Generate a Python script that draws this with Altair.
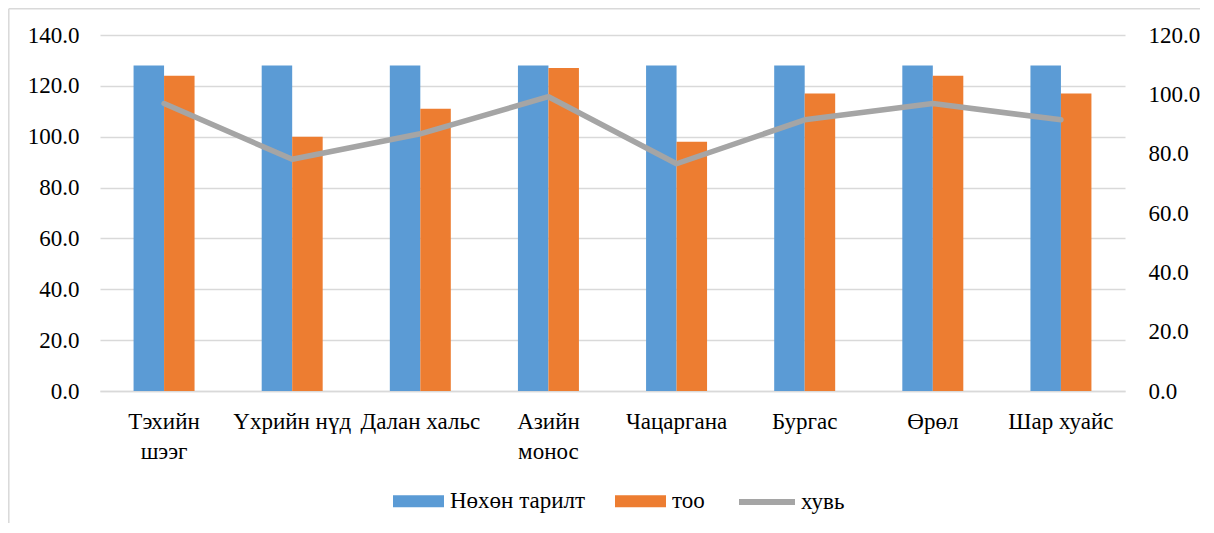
import altair as alt
import pandas as pd

categories = ["Тэхийн шээг", "Үхрийн нүд", "Далан хальс", "Азийн монос",
              "Чацаргана", "Бургас", "Өрөл", "Шар хуайс"]
nokhon = [128, 128, 128, 128, 128, 128, 128, 128]
too = [124, 100, 111, 127, 98, 117, 124, 117]
khuvi = [96.9, 78.1, 86.7, 99.2, 76.6, 91.4, 96.9, 91.4]
bar_series = ["Нөхөн тарилт", "тоо"]
line_series = "хувь"
left_ticks = [0, 20, 40, 60, 80, 100, 120, 140]
right_ticks = [0, 20, 40, 60, 80, 100, 120]

bars_df = pd.DataFrame(
    [{"cat": c, "series": bar_series[0], "value": v} for c, v in zip(categories, nokhon)]
    + [{"cat": c, "series": bar_series[1], "value": v} for c, v in zip(categories, too)]
)
line_df = pd.DataFrame({"cat": categories, "pct": khuvi, "series": [line_series] * len(categories)})

FONT = "Liberation Serif, Times New Roman, serif"
BLUE, ORANGE, GRAY = "#5b9bd5", "#ed7d31", "#a5a5a5"
GRID = "#d9d9d9"

xscale = alt.Scale(domain=categories, paddingInner=0.524, paddingOuter=0.262)
x_axis = alt.Axis(
    title=None, labelAngle=0, ticks=False, tickSize=0, domainColor=GRID, domainWidth=1.3,
    labelPadding=19, labelFontSize=23, labelFont=FONT, labelColor="#000", labelLineHeight=30,
    labelExpr="indexof(['Тэхийн шээг','Азийн монос'], datum.label) >= 0 ? split(datum.label, ' ') : datum.label",
)

bars = alt.Chart(bars_df).mark_bar().encode(
    x=alt.X("cat:N", scale=xscale, axis=x_axis, sort=categories),
    xOffset=alt.XOffset("series:N", sort=bar_series, scale=alt.Scale(paddingInner=0, paddingOuter=0)),
    y=alt.Y("value:Q", scale=alt.Scale(domain=[0, 140], nice=False),
            axis=alt.Axis(title=None, orient="left", values=left_ticks, format=".1f",
                          ticks=False, domain=False, grid=True, gridColor=GRID, gridWidth=1.3,
                          labelPadding=21, labelFontSize=23, labelFont=FONT, labelColor="#000")),
    color=alt.Color("series:N", sort=bar_series,
                    scale=alt.Scale(domain=bar_series, range=[BLUE, ORANGE]),
                    legend=alt.Legend(title=None, orient="none", direction="horizontal",
                                      legendX=293, legendY=440.5, padding=0,
                                      symbolType="M-1,-0.235H1V0.235H-1Z", symbolSize=2601,
                                      symbolStrokeWidth=0, labelOffset=6, columnPadding=29,
                                      labelFont=FONT, labelFontSize=23, labelColor="#000",
                                      labelLimit=400)),
)

line = alt.Chart(line_df).mark_line(strokeWidth=5.5, strokeJoin="round", strokeCap="round").encode(
    x=alt.X("cat:N", scale=xscale, sort=categories),
    y=alt.Y("pct:Q", scale=alt.Scale(domain=[0, 120], nice=False),
            axis=alt.Axis(title=None, orient="right", values=right_ticks, format=".1f",
                          ticks=False, domain=False, grid=False,
                          labelPadding=23, labelFontSize=23, labelFont=FONT, labelColor="#000")),
    stroke=alt.Stroke("series:N", scale=alt.Scale(domain=[line_series], range=[GRAY]),
                      legend=alt.Legend(title=None, orient="none", direction="horizontal",
                                        legendX=636, legendY=436, padding=0,
                                        symbolType="stroke", symbolSize=3136, symbolStrokeWidth=6,
                                        labelOffset=3, labelFont=FONT, labelFontSize=23,
                                        labelColor="#000", labelLimit=400)),
)

frame_df = pd.DataFrame({"k": [0]})
frame_left = alt.Chart(frame_df).mark_rule(color=GRID, strokeWidth=1.5).encode(
    x=alt.value(-91.2), y=alt.value(-26.2), y2=alt.value(520))
frame_top = alt.Chart(frame_df).mark_rule(color=GRID, strokeWidth=1.5).encode(
    x=alt.value(-91.2), x2=alt.value(1120), y=alt.value(-26.2))

chart = alt.layer(bars, line, frame_left, frame_top).resolve_scale(
    y="independent", color="independent", stroke="independent"
).properties(
    width=1025, height=356,
    autosize=alt.AutoSizeParams(type="none"),
    padding={"left": 92, "top": 27, "right": 75, "bottom": 132},
    background="white",
).configure_view(stroke=None).configure_axis(
    labelFont=FONT, labelFontSize=23, labelColor="#000"
).configure_legend(
    labelFont=FONT, labelFontSize=23, labelColor="#000"
).configure_text(font=FONT)

chart.save("out.html", embed_options={"renderer": "svg", "actions": False})
